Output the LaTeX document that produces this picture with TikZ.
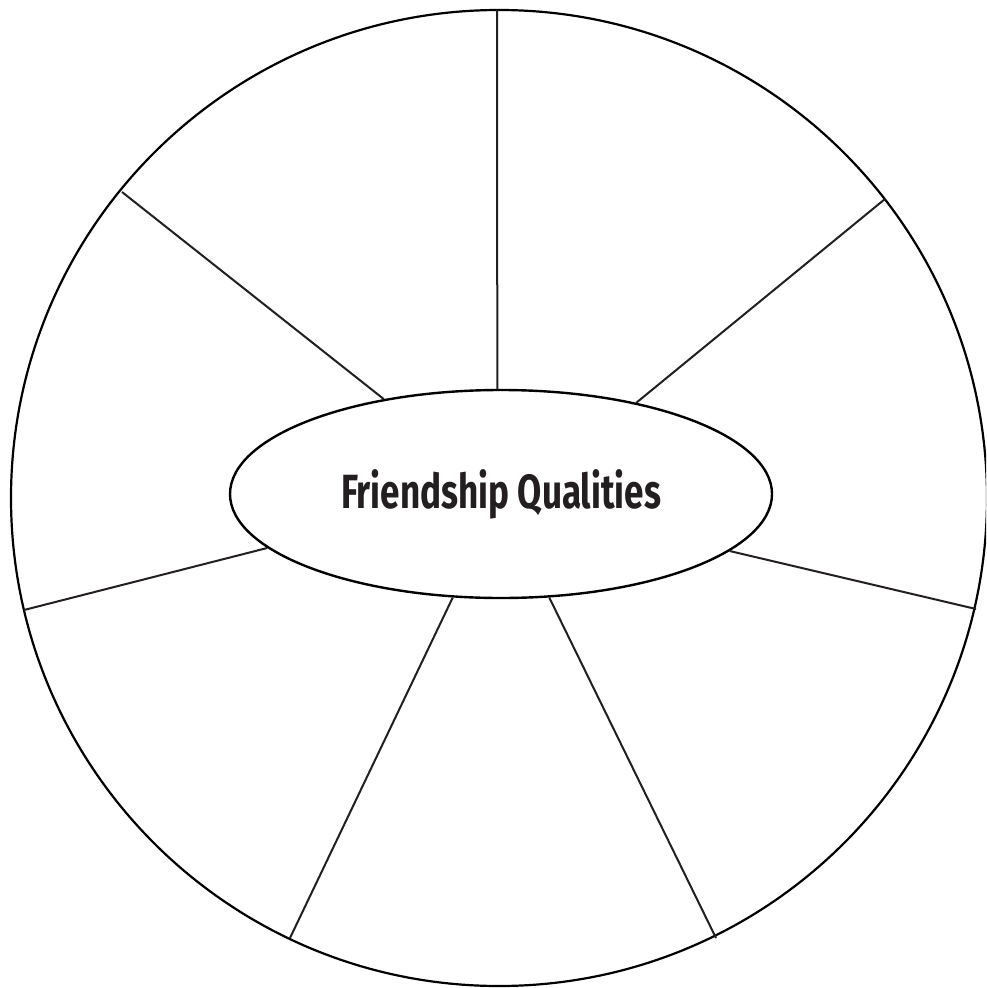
\documentclass[tikz,border=0pt]{standalone}
\usepackage{fontspec}
\setmainfont{Fira Sans}
\usetikzlibrary{shapes.geometric}
\definecolor{ink}{HTML}{231F20}
\begin{document}
\begin{tikzpicture}[x=1pt,y=-1pt,
  rim/.style={draw=black,line width=2.2pt},
  spoke/.style={draw=ink,line width=2pt},
  hub/.style={ellipse,draw=black,line width=2.4pt,minimum width=542pt,minimum height=208pt,inner sep=0pt,text=ink}]
\useasboundingbox (0,0) rectangle (986,988);
\clip (0,0) rectangle (986,988);
\fill[white] (0,0) rectangle (986,988);
\draw[rim] (499,498) circle[radius=488pt];
\node[hub] (E) at (501,494) {\resizebox{320pt}{\height}{\fontsize{48}{52}\selectfont\bfseries Friendship Qualities}};
\coordinate (c1) at (497,10);
\coordinate (c2) at (122,192);
\coordinate (c3) at (885,199);
\coordinate (c4) at (24,610);
\coordinate (c5) at (976,609);
\coordinate (c6) at (290,938);
\coordinate (c7) at (716,938);
\draw[spoke] (c1) -- (E.92);
\draw[spoke] (c2) -- (E.141.8);
\draw[spoke] (c3) -- (E.34.8);
\draw[spoke] (c4) -- (E.193.4);
\draw[spoke] (c5) -- (E.346.7);
\draw[spoke] (c6) -- (E.245.9);
\draw[spoke] (c7) -- (E.295);
\end{tikzpicture}
\end{document}
